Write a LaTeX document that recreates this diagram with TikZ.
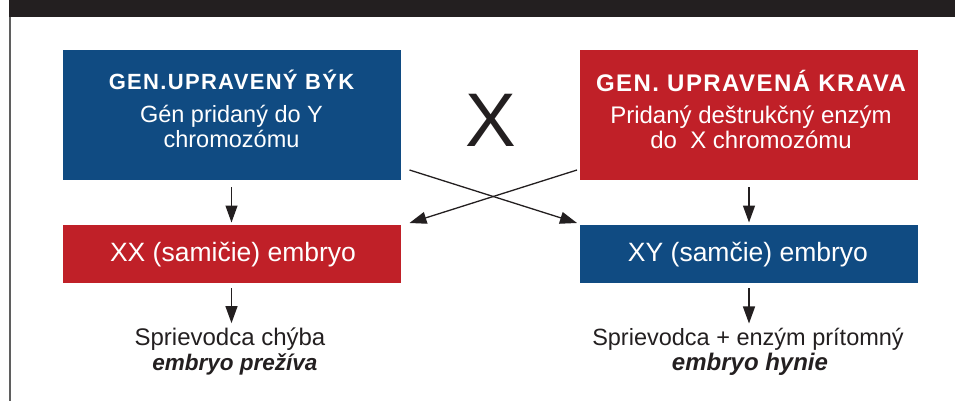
\documentclass[tikz,border=0pt]{standalone}
\usepackage{fontspec}
\setmainfont{Liberation Sans}
\usetikzlibrary{arrows.meta,calc}
\definecolor{boxblue}{RGB}{16,75,130}
\definecolor{boxred}{RGB}{192,32,40}
\definecolor{barblack}{RGB}{35,31,32}
\definecolor{edgegray}{RGB}{95,95,95}
\begin{document}
\begin{tikzpicture}[x=1pt,y=-1pt,
  panel/.style={minimum width=338pt,inner sep=0pt,outer sep=0pt,draw=none},
  bluepanel/.style={panel,fill=boxblue},
  redpanel/.style={panel,fill=boxred},
  intext/.style={text=white,inner sep=0pt,anchor=base},
  outtext/.style={text=barblack,inner sep=0pt,anchor=base},
  arr/.style={draw=barblack,line width=1.3pt,-{Triangle[length=17pt,width=12pt]}},
]
\useasboundingbox (0,0) rectangle (955,401);
% header bar and left rule
\fill[barblack] (9,0) rectangle (955,17.3);
\draw[edgegray,line width=2pt] (10,17) -- (10,401);

% parent boxes
\node[bluepanel,minimum height=130pt] (bull) at (231.5,115) {};
\node[intext,font=\fontsize{22}{26}\selectfont\bfseries\addfontfeatures{LetterSpace=6}] (bullA) at (231.5,89.5) {GEN.UPRAVENÝ BÝK};
\node[intext,font=\fontsize{23.5}{28}\selectfont] (bullB) at (231.5,122.7) {Gén pridaný do Y};
\node[intext,font=\fontsize{23.5}{28}\selectfont] (bullC) at (231.5,147.3) {chromozómu};

\node[redpanel,minimum height=130pt] (cow) at (749,115) {};
\node[intext,font=\fontsize{24}{28}\selectfont\bfseries\addfontfeatures{LetterSpace=6}] (cowA) at (751,91.5) {GEN. UPRAVENÁ KRAVA};
\node[intext,font=\fontsize{24}{28}\selectfont] (cowB) at (751,124) {Pridaný deštrukčný enzým};
\node[intext,font=\fontsize{24}{28}\selectfont] (cowC) at (751,149) {do~ X chromozómu};

\node[outtext,font=\fontsize{76}{76}\selectfont] (cross) at (490.5,146.7) {X};

% embryo boxes
\node[redpanel,minimum height=58pt] (xx) at (231.5,254) {};
\node[intext,font=\fontsize{26.5}{30}\selectfont] (xxT) at (233,261.7) {XX (samičie) embryo};
\node[bluepanel,minimum height=58pt] (xy) at (749,254) {};
\node[intext,font=\fontsize{26.5}{30}\selectfont] (xyT) at (748,261.7) {XY (samčie) embryo};

% outcomes
\node[outtext,font=\fontsize{24}{28}\selectfont] (xxA) at (230,345) {Sprievodca chýba};
\node[outtext,font=\fontsize{22.5}{28}\selectfont\bfseries\itshape] (xxB) at (235,370) {embryo prežíva};
\node[outtext,font=\fontsize{23.5}{28}\selectfont] (xyA) at (748,345) {Sprievodca + enzým prítomný};
\node[outtext,font=\fontsize{24}{28}\selectfont\bfseries\itshape] (xyB) at (750,370) {embryo hynie};

% connectors
\draw[arr,shorten <=7pt,shorten >=2.5pt] (bull.south) -- (xx.north);
\draw[arr,shorten <=7pt,shorten >=2.5pt] (cow.south) -- (xy.north);
\draw[arr] ($(bull.south east)+(9,-10)$) -- ($(xy.north west)+(-3,-2)$);
\draw[arr] ($(cow.south west)+(-3,-10)$) -- ($(xx.north east)+(9,-2)$);
\draw[arr,shorten <=5pt,shorten >=4pt] (xx.south) -- (xxA.north -| xx.south);
\draw[arr,shorten <=5pt,shorten >=4pt] (xy.south) -- (xyA.north -| xy.south);
\end{tikzpicture}
\end{document}
